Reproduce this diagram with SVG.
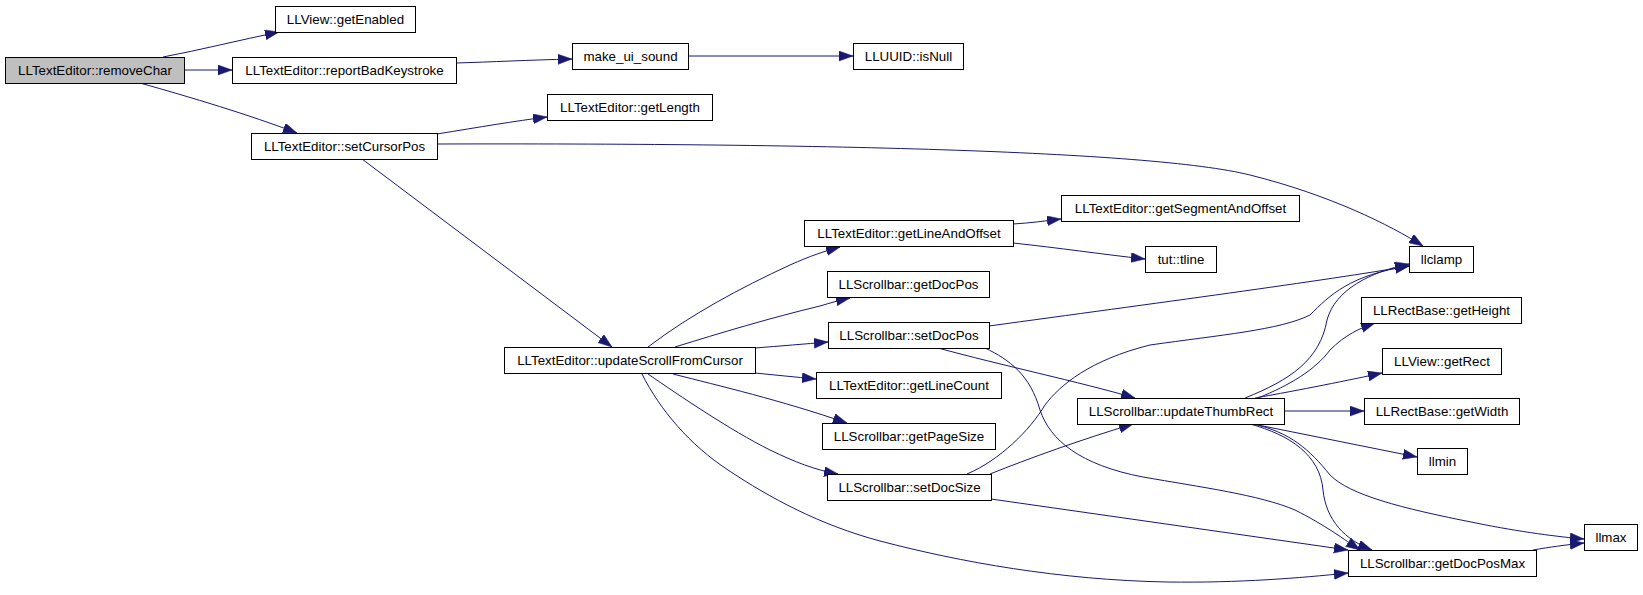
<svg xmlns="http://www.w3.org/2000/svg" width="1643" height="595" viewBox="0 0 1643 595">
<defs>
<style>
.node rect{fill:#ffffff;stroke:#000000;stroke-width:1}
.node.root rect{fill:#bfbfbf}
.node text{font-family:"Liberation Sans",Arial,Helvetica,sans-serif;font-size:13.33px;fill:#000000;text-anchor:middle}
.edges path{fill:none;stroke:#191970;stroke-width:1;marker-end:url(#arr)}
</style>
<marker id="arr" markerUnits="userSpaceOnUse" markerWidth="15" markerHeight="11" refX="14" refY="5" orient="auto">
<path d="M0,0 L14,5 L0,10 z" fill="#191970" stroke="#191970" stroke-width="0.5"/>
</marker>
</defs>
<rect x="0" y="0" width="1643" height="595" fill="#ffffff"/>
<g class="edges" id="edges">
<path d="M163,57 C200,50 240,40 279,32"/>
<path d="M184,70 L232,70"/>
<path d="M140,83 C190,97 250,115 297,133"/>
<path d="M456,63 C490,62 530,60 572,59"/>
<path d="M688,56 L853,56"/>
<path d="M437,134 C480,127 515,121 547,117"/>
<path d="M437,144 C800,143 1150,150 1250,175 C1330,195 1390,225 1423,246"/>
<path d="M362,159 L612,347"/>
<path d="M648,347 C690,315 740,288 790,265 C810,256 825,251 840,247"/>
<path d="M675,347 C720,333 770,318 820,306 C830,303 840,300 850,298"/>
<path d="M755,348 C780,346 805,344 828,342"/>
<path d="M755,373 C775,375 795,377 816,379"/>
<path d="M673,374 C720,386 780,400 847,423"/>
<path d="M648,374 C680,396 730,430 770,450 C795,462 815,470 838,474"/>
<path d="M642,374 C660,410 690,445 728,470 C770,498 820,525 880,541 C960,562 1060,580 1167,582 C1240,583 1300,578 1348,573"/>
<path d="M1013,224 C1030,223 1045,221 1061,219"/>
<path d="M1013,243 C1060,248 1100,254 1145,259"/>
<path d="M989,326 C1150,304 1330,280 1409,266"/>
<path d="M938,348 C1000,365 1080,382 1135,398"/>
<path d="M985,348 C1010,360 1030,375 1040,410 C1050,440 1080,465 1143,477 C1200,487 1260,495 1295,510 C1325,525 1345,540 1360,550"/>
<path d="M967,474 C1000,460 1030,430 1045,405 C1060,385 1090,360 1150,345 C1220,335 1280,330 1310,315 C1330,295 1350,275 1409,266"/>
<path d="M990,474 C1030,458 1080,440 1133,424"/>
<path d="M991,499 L1348,550"/>
<path d="M1245,398 C1290,380 1320,360 1327,320 C1335,290 1370,272 1409,264"/>
<path d="M1258,398 C1290,385 1315,370 1330,350 C1345,335 1360,328 1375,323"/>
<path d="M1255,398 C1300,390 1350,380 1382,373"/>
<path d="M1284,411 L1364,411"/>
<path d="M1253,424 L1417,457"/>
<path d="M1253,424 C1290,432 1310,450 1330,475 C1350,495 1400,508 1476,523 C1520,532 1560,537 1584,539"/>
<path d="M1250,424 C1290,435 1320,455 1323,490 C1326,520 1345,540 1372,550"/>
<path d="M1533,550 C1550,547 1565,545 1584,543"/>
</g>
<g id="n_removeChar" class="node root"><rect x="5.5" y="57.5" width="179" height="26"/><text x="95" y="75">LLTextEditor::removeChar</text></g>
<g id="n_getEnabled" class="node"><rect x="275.5" y="6.5" width="140" height="26"/><text x="345.5" y="24">LLView::getEnabled</text></g>
<g id="n_reportBadKeystroke" class="node"><rect x="232.5" y="57.5" width="224" height="26"/><text x="344.5" y="75">LLTextEditor::reportBadKeystroke</text></g>
<g id="n_setCursorPos" class="node"><rect x="251.5" y="133.5" width="186" height="26"/><text x="344.5" y="151">LLTextEditor::setCursorPos</text></g>
<g id="n_make_ui_sound" class="node"><rect x="572.5" y="43.5" width="116" height="26"/><text x="630.5" y="61">make_ui_sound</text></g>
<g id="n_isNull" class="node"><rect x="853.5" y="43.5" width="110" height="26"/><text x="908.5" y="61">LLUUID::isNull</text></g>
<g id="n_getLength" class="node"><rect x="547.5" y="94.5" width="165" height="26"/><text x="630" y="112">LLTextEditor::getLength</text></g>
<g id="n_updateScrollFromCursor" class="node"><rect x="504.5" y="347.5" width="251" height="26"/><text x="630" y="365">LLTextEditor::updateScrollFromCursor</text></g>
<g id="n_getLineAndOffset" class="node"><rect x="804.5" y="220.5" width="209" height="26"/><text x="909" y="238">LLTextEditor::getLineAndOffset</text></g>
<g id="n_getDocPos" class="node"><rect x="827.5" y="271.5" width="162" height="26"/><text x="908.5" y="289">LLScrollbar::getDocPos</text></g>
<g id="n_setDocPos" class="node"><rect x="828.5" y="322.5" width="161" height="26"/><text x="909" y="340">LLScrollbar::setDocPos</text></g>
<g id="n_getLineCount" class="node"><rect x="816.5" y="372.5" width="185" height="26"/><text x="909" y="390">LLTextEditor::getLineCount</text></g>
<g id="n_getPageSize" class="node"><rect x="822.5" y="423.5" width="173" height="26"/><text x="909" y="441">LLScrollbar::getPageSize</text></g>
<g id="n_setDocSize" class="node"><rect x="827.5" y="474.5" width="164" height="26"/><text x="909.5" y="492">LLScrollbar::setDocSize</text></g>
<g id="n_getSegmentAndOffset" class="node"><rect x="1061.5" y="195.5" width="238" height="26"/><text x="1180.5" y="213">LLTextEditor::getSegmentAndOffset</text></g>
<g id="n_tline" class="node"><rect x="1145.5" y="246.5" width="71" height="26"/><text x="1181" y="264">tut::tline</text></g>
<g id="n_updateThumbRect" class="node"><rect x="1077.5" y="398.5" width="207" height="26"/><text x="1181" y="416">LLScrollbar::updateThumbRect</text></g>
<g id="n_llclamp" class="node"><rect x="1409.5" y="246.5" width="64" height="26"/><text x="1441.5" y="264">llclamp</text></g>
<g id="n_getHeight" class="node"><rect x="1361.5" y="297.5" width="160" height="26"/><text x="1441.5" y="315">LLRectBase::getHeight</text></g>
<g id="n_getRect" class="node"><rect x="1382.5" y="348.5" width="119" height="26"/><text x="1442" y="366">LLView::getRect</text></g>
<g id="n_getWidth" class="node"><rect x="1364.5" y="398.5" width="155" height="26"/><text x="1442" y="416">LLRectBase::getWidth</text></g>
<g id="n_llmin" class="node"><rect x="1417.5" y="448.5" width="50" height="26"/><text x="1442.5" y="466">llmin</text></g>
<g id="n_getDocPosMax" class="node"><rect x="1348.5" y="550.5" width="188" height="26"/><text x="1442.5" y="568">LLScrollbar::getDocPosMax</text></g>
<g id="n_llmax" class="node"><rect x="1584.5" y="524.5" width="53" height="26"/><text x="1611" y="542">llmax</text></g>
</svg>
